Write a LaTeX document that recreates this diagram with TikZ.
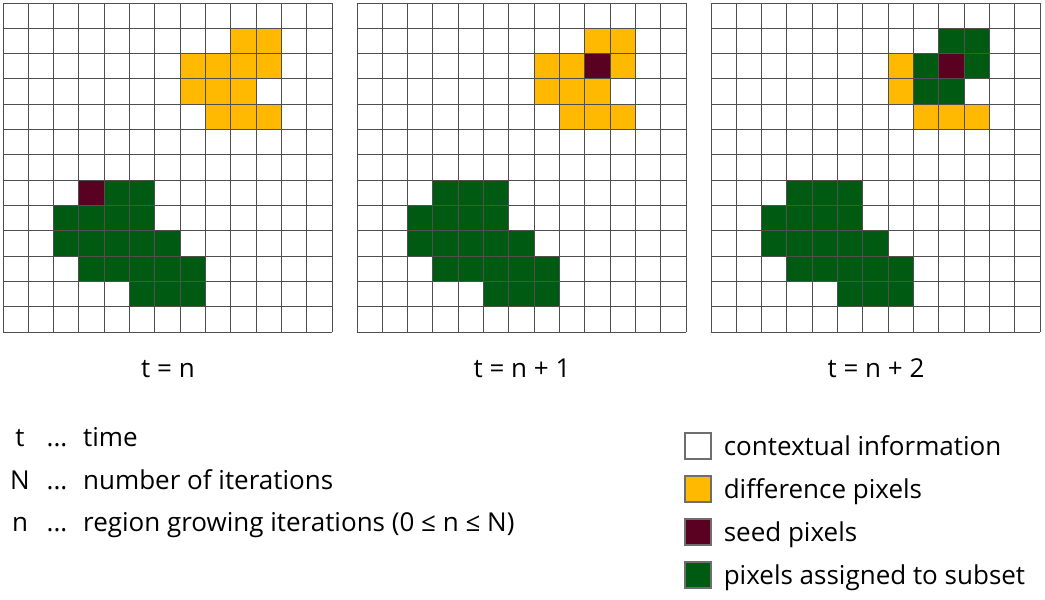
\documentclass[tikz,border=0pt]{standalone}
\usepackage{fontspec}
\setmainfont{Open Sans}
\usetikzlibrary{positioning}
\definecolor{diffyellow}{HTML}{FFB900}
\definecolor{seedred}{HTML}{5A0020}
\definecolor{subsetgreen}{HTML}{005A12}
\definecolor{gridgray}{HTML}{4F4F4F}
\definecolor{boxgray}{HTML}{6E6E6E}

% grid lines of one 13 x 13 pixel frame
\newcommand{\pixframe}{%
    \foreach \i in {0,...,13} {
        \draw[gridline] (\i,0) -- (\i,13);
        \draw[gridline] (0,\i) -- (13,\i);
    }
}
% the lower region that is already grown
\newcommand{\lowerregion}{%
    \foreach \c/\r in {4/7,5/7,2/8,3/8,4/8,5/8,2/9,3/9,4/9,5/9,6/9,
                       3/10,4/10,5/10,6/10,7/10,5/11,6/11,7/11}
        \fill[subset] (\c,\r) rectangle ++(1,1);
}

\begin{document}
\begin{tikzpicture}[x=1pt,y=-1pt,
    cell/.style={x=25.31pt,y=-25.31pt},
    gridline/.style={draw=gridgray,line width=1pt},
    diff/.style={fill=diffyellow},
    seed/.style={fill=seedred},
    subset/.style={fill=subsetgreen},
    txt/.style={font=\fontsize{26}{31}\selectfont,inner sep=0pt},
    caption/.style={txt,anchor=base},
    keybox/.style={draw=boxgray,line width=1.2pt,minimum size=26pt,inner sep=0pt},
    keytext/.style={txt,anchor=west,text height=18pt,text depth=0pt}]
    \useasboundingbox (0,0) rectangle (1045,600);

    % t = n
    \begin{scope}[shift={(3,3)},cell]
        \foreach \c/\r in {9/1,10/1,7/2,8/2,9/2,10/2,7/3,8/3,9/3,8/4,9/4,10/4}
            \fill[diff] (\c,\r) rectangle ++(1,1);
        \fill[seed] (3,7) rectangle ++(1,1);
        \lowerregion
        \pixframe
    \end{scope}

    % t = n + 1
    \begin{scope}[shift={(357,3)},cell]
        \foreach \c/\r in {9/1,10/1,7/2,8/2,10/2,7/3,8/3,9/3,8/4,9/4,10/4}
            \fill[diff] (\c,\r) rectangle ++(1,1);
        \fill[seed] (9,2) rectangle ++(1,1);
        \fill[subset] (3,7) rectangle ++(1,1);
        \lowerregion
        \pixframe
    \end{scope}

    % t = n + 2
    \begin{scope}[shift={(711,3)},cell]
        \foreach \c/\r in {7/2,7/3,8/4,9/4,10/4}
            \fill[diff] (\c,\r) rectangle ++(1,1);
        \foreach \c/\r in {9/1,10/1,8/2,10/2,8/3,9/3}
            \fill[subset] (\c,\r) rectangle ++(1,1);
        \fill[seed] (9,2) rectangle ++(1,1);
        \fill[subset] (3,7) rectangle ++(1,1);
        \lowerregion
        \pixframe
    \end{scope}

    \node[caption] (capA) at (168,377) {t = n};
    \node[caption] (capB) at (522,377) {t = n + 1};
    \node[caption] (capC) at (876,377) {t = n + 2};

    % symbols
    \node[caption] (symt) at (20,446) {t};
    \node[caption] (symN) at (20,489) {N};
    \node[caption] (symn) at (20,531) {n};
    \node[caption] (dotst) at (57,446) {...};
    \node[caption] (dotsN) at (57,489) {...};
    \node[caption] (dotsn) at (57,531) {...};
    \node[txt,anchor=base west] (desct) at (83,446) {time};
    \node[txt,anchor=base west] (descN) at (83,489) {number of iterations};
    \node[txt,anchor=base west] (descn) at (83,531) {region growing iterations (0 ≤ n ≤ N)};

    % legend
    \node[keybox,fill=white] (keyctx) at (698,446) {};
    \node[keybox,fill=diffyellow,below=15.8pt of keyctx] (keydiff) {};
    \node[keybox,fill=seedred,below=15.8pt of keydiff] (keyseed) {};
    \node[keybox,fill=subsetgreen,below=15.8pt of keyseed] (keysub) {};
    \node[keytext,right=12pt of keyctx] (txtctx) {contextual information};
    \node[keytext,right=12pt of keydiff] (txtdiff) {difference pixels};
    \node[keytext,right=12pt of keyseed] (txtseed) {seed pixels};
    \node[keytext,right=12pt of keysub] (txtsub) {pixels assigned to subset};
\end{tikzpicture}
\end{document}
